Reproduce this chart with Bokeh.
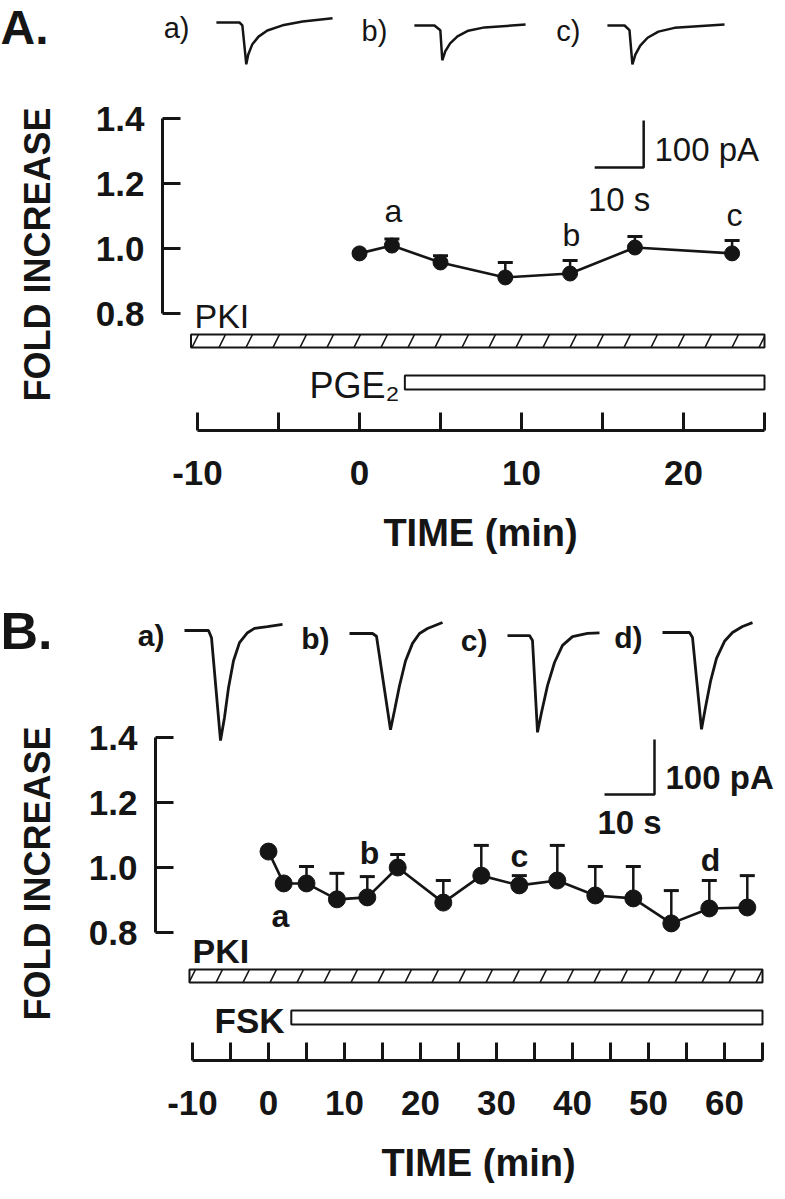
import math
from bokeh.plotting import figure
from bokeh.models import (Range1d, FixedTicker, Whisker, TeeHead, Label,
                          LinearAxis, ColumnDataSource, PrintfTickFormatter)
from bokeh.layouts import column
from bokeh.embed import file_html
from bokeh.resources import INLINE

# ---------------- data ----------------
# Panel A : PKI + PGE2
a_time = [0, 2, 5, 9, 13, 17, 23]
a_fold = [0.985, 1.009, 0.957, 0.911, 0.923, 1.003, 0.985]
a_sem = [0.005, 0.020, 0.021, 0.046, 0.040, 0.034, 0.040]
a_letters = ["a", "b", "c"]
a_letter_time = [2, 13, 23]
a_pki = [-10.4, 25]
a_pge2 = [2.8, 25]
a_xticks = [-10, 0, 10, 20]
a_xminor = [-5, 5, 15, 25]

# Panel B : PKI + FSK
b_time = [0, 2, 5, 9, 13, 17, 23, 28, 33, 38, 43, 48, 53, 58, 63]
b_fold = [1.049, 0.951, 0.951, 0.902, 0.908, 1.000, 0.892, 0.975,
          0.945, 0.960, 0.914, 0.905, 0.828, 0.874, 0.877]
b_sem = [0.000, 0.000, 0.052, 0.080, 0.064, 0.040, 0.068, 0.093,
         0.030, 0.108, 0.089, 0.098, 0.101, 0.086, 0.098]
b_letters = ["a", "b", "c", "d"]
b_letter_time = [2, 13, 33, 58]
b_pki = [-10.4, 65]
b_fsk = [3.0, 65]
b_xticks = [-10, 0, 10, 20, 30, 40, 50, 60]
b_xminor = [-5, 5, 15, 25, 35, 45, 55, 65]

yticks = [0.8, 1.0, 1.2, 1.4]

# example currents (seconds, pA) - panel A
a_trace_s = [
    [0, 4.7, 5.3, 6.1, 6.5, 7.3, 8.6, 10.4, 13.5, 17.6, 23.7],
    [0, 4.1, 5.3, 5.7, 6.3, 7.3, 8.8, 11.0, 14.3, 22.7],
    [0, 3.5, 4.5, 5.1, 5.7, 6.7, 8.2, 10.4, 13.7, 23.9],
]
a_trace_pa = [
    [0, 0, -6, -89, -68, -47, -30, -17, -6, 2, 9],
    [0, 0, -10, -74, -55, -38, -23, -11, -4, 2],
    [0, 0, -10, -83, -62, -43, -26, -13, -5, 2],
]
a_trace_names = ["a)", "b)", "c)"]

# example currents (seconds, pA) - panel B
b_trace_s = [
    [0, 4.8, 5.4, 7.2, 8.0, 8.8, 9.8, 11.0, 12.6, 14.0, 16.6, 19.6],
    [0, 4.6, 5.4, 8.2, 9.0, 10.0, 11.2, 12.6, 14.0, 15.6, 18.6],
    [0, 4.4, 5.0, 6.0, 6.8, 8.0, 9.4, 11.0, 13.0, 16.0, 18.4],
    [0, 5.4, 6.0, 7.8, 8.6, 9.6, 10.8, 12.4, 14.0, 16.0, 18.0],
]
b_trace_pa = [
    [0, 0, -13, -200, -158, -104, -55, -22, -4, 4, 7, 11],
    [0, 0, -5, -175, -140, -95, -50, -18, 0, 9, 20],
    [0, 0, -9, -176, -140, -91, -49, -18, -2, 4, 5],
    [0, 0, -9, -176, -136, -89, -47, -16, 0, 11, 18],
]
b_trace_names = ["a)", "b)", "c)", "d)"]

SCALE_S = 10
SCALE_PA = 100

# ---------------- style / layout ----------------
FONT = "Liberation Sans"
INK = "#151515"
FIG_W = 777
PAGE = 8  # page margin
H_A = 575
H_B = 608


def lab(p, x, y, text, size, bold=False, align="left", baseline="middle",
        angle=0.0, xr="default", yr="default"):
    p.add_layout(Label(x=x, y=y, text=text, text_font=FONT,
                       text_font_size=f"{size}px",
                       text_font_style="bold" if bold else "normal",
                       text_align=align, text_baseline=baseline, angle=angle,
                       text_color=INK, x_range_name=xr, y_range_name=yr))


def make_panel(cfg):
    pxm = cfg["px_per_min"]
    pxu = cfg["px_per_unit"]
    top = cfg["fig_top"]
    H = cfg["height"]
    # page pixel -> data helpers (for placing text only)
    px_x = lambda px: -10 + (px - cfg["m10_x"]) / pxm
    px_y = lambda py: 1.4 - (py - cfg["y14"]) / pxu
    xr = Range1d(px_x(PAGE), px_x(PAGE + FIG_W))
    yr = Range1d(px_y(top + H), px_y(top))
    p = figure(width=FIG_W, height=H, x_range=xr, y_range=yr,
               output_backend="svg", toolbar_location=None, tools="",
               x_axis_location=None, y_axis_location=None,
               min_border_left=0, min_border_right=0,
               min_border_top=0, min_border_bottom=0)
    p.outline_line_color = None
    p.background_fill_color = "white"
    p.border_fill_color = "white"
    p.xgrid.visible = False
    p.ygrid.visible = False
    # trace coordinate system (seconds / pA), 0 s at the y axis line
    pps, pppa = cfg["px_per_s"], cfg["px_per_pa"]
    tx0 = -(cfg["yaxis_x"] - PAGE) / pps
    p.extra_x_ranges = {"tx": Range1d(tx0, tx0 + FIG_W / pps)}
    ty1 = (cfg["trace_base_y"] - top) / pppa
    p.extra_y_ranges = {"ty": Range1d(ty1 - H / pppa, ty1)}

    # axes (drawn at fixed positions inside the frame)
    xa = LinearAxis(ticker=FixedTicker(ticks=cfg["xticks"], minor_ticks=cfg["xminor"]),
                    formatter=PrintfTickFormatter(format="%d"),
                    bounds=(cfg["xticks"][0], cfg["xminor"][-1]),
                    fixed_location=px_y(cfg["axis_y"]))
    ya = LinearAxis(ticker=FixedTicker(ticks=yticks, minor_ticks=[]),
                    formatter=PrintfTickFormatter(format="%.1f"),
                    bounds=(0.8, 1.4),
                    fixed_location=px_x(cfg["yaxis_x"]))
    p.add_layout(xa, "below")
    p.add_layout(ya, "left")
    for ax in (xa, ya):
        ax.axis_line_width = 3
        ax.axis_line_color = INK
        ax.major_tick_line_width = 3
        ax.major_tick_line_color = INK
        ax.minor_tick_line_width = 3
        ax.minor_tick_line_color = INK
        ax.major_tick_in = 18
        ax.major_tick_out = 0
        ax.minor_tick_in = 18
        ax.minor_tick_out = 0
        ax.major_label_text_font = FONT
        ax.major_label_text_font_style = "bold"
        ax.major_label_text_font_size = "35px"
        ax.major_label_text_color = INK
    xa.major_label_standoff = cfg["xlab_standoff"]
    ya.major_label_standoff = 18

    # axis titles
    tx, ty = cfg["xtitle_px"]
    lab(p, px_x(tx), px_y(ty), "TIME (min)", 38, bold=True, align="center")
    yx, yy = cfg["ytitle_px"]
    lab(p, px_x(yx), px_y(yy), "FOLD INCREASE", 36, bold=True,
        align="center", angle=math.pi / 2)
    # panel letter
    lx, ly = cfg["letter_px"]
    lab(p, px_x(lx), px_y(ly), cfg["letter"], cfg["letter_size"], bold=True,
        baseline=cfg["letter_baseline"])

    # treatment bars
    pki, drug = cfg["pki"], cfg["drug"]
    py0, py1 = cfg["pki_px"]
    p.quad(left=[pki[0]], right=[pki[1]], bottom=[px_y(py1)], top=[px_y(py0)],
           fill_color="white", line_color=INK, line_width=2,
           hatch_pattern="/", hatch_scale=54, hatch_weight=1.6, hatch_color=INK)
    dy0, dy1 = cfg["drug_px"]
    p.quad(left=[drug[0]], right=[drug[1]], bottom=[px_y(dy1)], top=[px_y(dy0)],
           fill_color="white", line_color=INK, line_width=2)
    kx, ky = cfg["pki_lab_px"]
    lab(p, px_x(kx), px_y(ky), "PKI", 34, bold=cfg["bold"])
    dx, dyl = cfg["drug_lab_px"]
    lab(p, px_x(dx), px_y(dyl), cfg["drug_name"], cfg["drug_size"],
        bold=cfg["bold"], align="right")

    # data
    hi = [f + s for f, s in zip(cfg["fold"], cfg["sem"])]
    src = ColumnDataSource(dict(t=cfg["time"], f=cfg["fold"], hi=hi))
    w = Whisker(source=src, base="t", upper="hi", lower="f", dimension="height",
                line_color=INK, line_width=2.5,
                upper_head=TeeHead(size=15, line_width=3, line_color=INK),
                lower_head=None, level="underlay")
    p.add_layout(w)
    p.line("t", "f", source=src, line_width=2.6, line_color=INK)
    p.scatter("t", "f", source=src, size=cfg["msize"], fill_color=INK,
              line_color=INK, marker="circle")
    for L, (lxp, lyp) in zip(cfg["letters"], cfg["letters_px"]):
        lab(p, px_x(lxp), px_y(lyp), L, 32, bold=cfg["bold"], align="center")

    # traces
    for s_list, pa_list, name, sx, by in zip(cfg["tr_s"], cfg["tr_pa"], cfg["tr_names"],
                                             cfg["tr_start"], cfg["tr_base"]):
        p.line([sx + s for s in s_list], [by + v for v in pa_list],
               x_range_name="tx", y_range_name="ty", line_width=cfg["tr_w"], line_color=INK)
        lab(p, sx - cfg["tr_lab_gap"], by - cfg["tr_lab_dy"], name, cfg["tr_lab_size"],
            bold=cfg["bold"], align="right", xr="tx", yr="ty")

    # scale bar
    cx, cy = cfg["sb_corner"]
    p.line([cx - SCALE_S, cx, cx], [cy, cy, cy + SCALE_PA], x_range_name="tx",
           y_range_name="ty", line_width=2.5, line_color=INK)
    lab(p, cx + cfg["sb_pa_dx"], cy + cfg["sb_pa_dy"], f"{SCALE_PA} pA", 33,
        bold=cfg["bold"], xr="tx", yr="ty")
    lab(p, cx - SCALE_S / 2, cy + cfg["sb_s_dy"], f"{SCALE_S} s", 33,
        bold=cfg["bold"], align="center", xr="tx", yr="ty")
    return p


cfgA = dict(
    fig_top=PAGE, height=H_A, axis_y=438, y14=126, m10_x=205, yaxis_x=170,
    px_per_min=16.2, px_per_unit=325, px_per_s=4.9, px_per_pa=0.47, trace_base_y=30,
    xticks=a_xticks, xminor=a_xminor, xlab_standoff=30,
    xtitle_px=(488, 540), ytitle_px=(45, 262),
    letter="A.", letter_px=(PAGE, PAGE), letter_size=48, letter_baseline="top",
    pki=a_pki, drug=a_pge2, pki_px=(342, 355), drug_px=(383, 397),
    pki_lab_px=(202, 323), drug_name="PGE\u2082", drug_size=36, drug_lab_px=(407, 393),
    time=a_time, fold=a_fold, sem=a_sem, msize=15,
    letters=a_letters, letters_px=[(401, 218), (579, 242), (742, 222)],
    tr_s=a_trace_s, tr_pa=a_trace_pa, tr_names=a_trace_names,
    tr_start=[11.0, 51.4, 90.8], tr_base=[0, -6.4, -6.4], tr_w=2.5,
    tr_lab_gap=5.5, tr_lab_dy=12, tr_lab_size=29, bold=False,
    sb_corner=(98.2, -308.5), sb_pa_dx=2.2, sb_pa_dy=38, sb_s_dy=-68,
)
cfgB = dict(
    fig_top=PAGE + H_A, height=H_B, axis_y=1068, y14=745, m10_x=200, yaxis_x=163,
    px_per_min=7.6, px_per_unit=325, px_per_s=5.0, px_per_pa=0.55, trace_base_y=640,
    xticks=b_xticks, xminor=b_xminor, xlab_standoff=30,
    xtitle_px=(486, 1170), ytitle_px=(45, 881),
    letter="B.", letter_px=(PAGE, 638), letter_size=52, letter_baseline="middle",
    pki=b_pki, drug=b_fsk, pki_px=(977, 990), drug_px=(1018, 1032),
    pki_lab_px=(200, 958), drug_name="FSK", drug_size=35, drug_lab_px=(292, 1028),
    time=b_time, fold=b_fold, sem=b_sem, msize=17,
    letters=b_letters, letters_px=[(288, 923), (377, 860), (527, 863), (718, 867)],
    tr_s=b_trace_s, tr_pa=b_trace_pa, tr_names=b_trace_names,
    tr_start=[5.8, 38.8, 70.4, 101.4], tr_base=[3.6, -1.8, -5.5, 0], tr_w=2.8,
    tr_lab_gap=4.0, tr_lab_dy=9, tr_lab_size=30, bold=True,
    sb_corner=(99.8, -294.5), sb_pa_dx=2.2, sb_pa_dy=31, sb_s_dy=-51,
)

pA = make_panel(cfgA)
pB = make_panel(cfgB)

layout = column(pA, pB)
open("out.html", "w").write(file_html(layout, INLINE))
